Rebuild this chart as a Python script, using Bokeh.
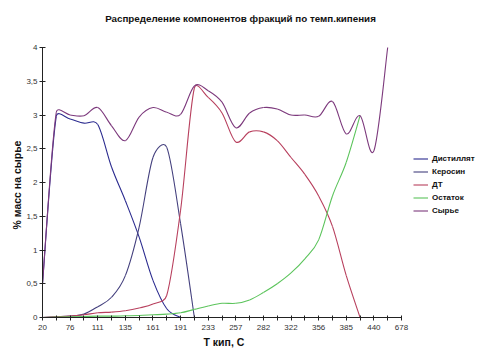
import numpy as np
from bokeh.plotting import figure
from bokeh.models import Range1d, FixedTicker, Legend, LegendItem, ColumnDataSource, Label, Title
from bokeh.embed import file_html
from bokeh.resources import INLINE

# Category axis (boiling temperature, C); only every other category is labelled
categories = ["20", "45", "76", "95", "111", "122", "135", "148", "161", "176",
              "191", "212", "233", "245", "257", "270", "282", "302", "322", "340",
              "356", "370", "385", "410", "440", "560", "678"]

distillate = [0.50, 2.98, 2.94, 2.88, 2.86, 2.23, 1.73, 1.19, 0.55, 0.13, 0.0]
kerosene = [0.0, 0.01, 0.02, 0.05, 0.16, 0.30, 0.62, 1.34, 2.37, 2.52, 1.39, 0.0]
diesel = [0.0, 0.01, 0.02, 0.04, 0.07, 0.08, 0.10, 0.14, 0.20, 0.33, 1.59, 3.40,
          3.26, 3.03, 2.60, 2.75, 2.75, 2.62, 2.37, 2.12, 1.80, 1.35, 0.62, 0.0]
residue = [0.0, 0.005, 0.01, 0.015, 0.02, 0.02, 0.025, 0.03, 0.04, 0.05, 0.07, 0.12,
           0.17, 0.21, 0.21, 0.26, 0.37, 0.50, 0.66, 0.87, 1.15, 1.80, 2.30, 2.99]
crude = [0.50, 3.04, 3.00, 2.99, 3.11, 2.84, 2.62, 2.97, 3.11, 3.04, 3.01, 3.43,
         3.36, 3.19, 2.81, 3.03, 3.11, 3.09, 3.00, 3.00, 2.98, 3.20, 2.72, 2.99,
         2.47, 4.00]

series_names = ["Дистиллят", "Керосин", "ДТ", "Остаток", "Сырье"]
series_values = [distillate, kerosene, diesel, residue, crude]
series_colors = ["#2b2b8f", "#44407e", "#b8405e", "#5cc45c", "#7d3a7d"]

y_ticks = [0, 0.5, 1, 1.5, 2, 2.5, 3, 3.5, 4]
y_tick_labels = ["0", "0,5", "1", "1,5", "2", "2,5", "3", "3,5", "4"]
Y_MAX = 4.0

TITLE = "Распределение компонентов фракций по темп.кипения"
X_LABEL = "Т кип, С"
Y_LABEL = "% масс на сырье"
FONT = "Liberation Sans"

# layout (pixels)
W, H = 476, 357
BL, BB = 42, 40
PLOT_W, PLOT_H = 359, 270     # visible axes box inside the frame (top at 47)
n = len(categories)
SX = PLOT_W / (n - 1)   # px per category
SY = PLOT_H / Y_MAX     # px per unit
FRAME_W, FRAME_H = W - BL, 317


def bezier_source(ys):
    """Excel-like smoothed line: cubic Bezier segments, Catmull-Rom controls capped
    at half the segment length (computed in screen space)."""
    xs = np.arange(n, dtype=float)
    yv = np.full(n, np.nan)
    yv[:len(ys)] = ys
    out = {k: [] for k in ("x0", "y0", "x1", "y1", "cx0", "cy0", "cx1", "cy1")}
    fin = np.isfinite(yv)
    i = 0
    while i < n:
        if not fin[i]:
            i += 1
            continue
        j = i
        while j + 1 < n and fin[j + 1]:
            j += 1
        px, py = xs[i:j + 1], yv[i:j + 1]
        m = len(px)

        def dist(a, b):
            return np.hypot((px[a] - px[b]) * SX, (py[a] - py[b]) * SY)

        for k in range(m - 1):
            a = k - 1 if k > 0 else k
            d = k + 2 if k + 2 < m else k + 1
            d12 = dist(k, k + 1)
            d02 = dist(a, k + 1)
            d13 = dist(k, d)
            f1 = 1 / 6 if d02 / 6 < d12 / 2 else (d12 / (2 * d02) if d02 > 0 else 0)
            f2 = 1 / 6 if d13 / 6 < d12 / 2 else (d12 / (2 * d13) if d13 > 0 else 0)
            out["x0"].append(px[k]); out["y0"].append(py[k])
            out["x1"].append(px[k + 1]); out["y1"].append(py[k + 1])
            out["cx0"].append(px[k] + f1 * (px[k + 1] - px[a]))
            out["cy0"].append(py[k] + f1 * (py[k + 1] - py[a]))
            out["cx1"].append(px[k + 1] - f2 * (px[d] - px[k]))
            out["cy1"].append(py[k + 1] - f2 * (py[d] - py[k]))
        i = j + 1
    return ColumnDataSource(out)


p = figure(width=W, height=H, output_backend="svg", toolbar_location=None,
           x_range=Range1d(0, FRAME_W / SX), y_range=Range1d(0, FRAME_H / SY),
           min_border_left=BL, min_border_right=0, min_border_top=0, min_border_bottom=BB)
p.outline_line_color = None
p.xgrid.visible = False
p.ygrid.visible = False
p.background_fill_color = "white"
p.border_fill_color = "white"

items = []
for name, vals, col in zip(series_names, series_values, series_colors):
    src = bezier_source(vals)
    r = p.bezier(x0="x0", y0="y0", x1="x1", y1="y1", cx0="cx0", cy0="cy0",
                 cx1="cx1", cy1="cy1", source=src, line_color=col, line_width=1.1)
    items.append(LegendItem(label=name, renderers=[r]))

# axes
xa = p.xaxis[0]
xa.bounds = (0, n - 1)
xa.ticker = FixedTicker(ticks=list(range(n)))
xa.major_label_overrides = {i: (categories[i] if i % 2 == 0 else "") for i in range(n)}
xa.minor_tick_line_color = None
xa.major_tick_in = 2
xa.major_tick_out = 3
xa.axis_line_color = "#222222"
xa.major_tick_line_color = "#222222"
xa.major_label_text_font = FONT
xa.major_label_text_font_size = "8px"
xa.major_label_text_color = "#333333"
xa.major_label_standoff = 4

ya = p.yaxis[0]
ya.bounds = (0, Y_MAX)
ya.ticker = FixedTicker(ticks=y_ticks)
ya.major_label_overrides = {t: s for t, s in zip(y_ticks, y_tick_labels)}
ya.minor_tick_line_color = None
ya.major_tick_in = 3
ya.major_tick_out = 3
ya.axis_line_color = "#222222"
ya.major_tick_line_color = "#222222"
ya.major_label_text_font = FONT
ya.major_label_text_font_size = "8px"
ya.major_label_text_color = "#333333"
ya.major_label_standoff = 2

# axis titles placed in the side panels so they can be positioned along the axes
xt = Title(text=X_LABEL, align="left", offset=161, vertical_align="top", standoff=6,
           text_font=FONT, text_font_size="10.5px", text_font_style="bold",
           text_color="#111111")
p.add_layout(xt, "below")
yt = Title(text=Y_LABEL, align="left", offset=88, standoff=2,
           text_font=FONT, text_font_size="10.5px", text_font_style="bold",
           text_color="#111111")
p.add_layout(yt, "left")

legend = Legend(items=items, location=(371, 100), padding=0, margin=0, spacing=0,
                glyph_width=15, glyph_height=13, label_height=13, label_standoff=4,
                label_text_font=FONT, label_text_font_size="8px",
                label_text_font_style="bold", label_text_color="#111111",
                border_line_color=None, background_fill_alpha=0)
p.add_layout(legend)

title = Label(x=(240 - BL) / SX, y=(FRAME_H - 18) / SY, text=TITLE,
              text_align="center", text_baseline="middle", text_font=FONT,
              text_font_size="9.8px", text_font_style="bold", text_color="#111111")
p.add_layout(title)

open("out.html", "w").write(file_html(p, INLINE))
